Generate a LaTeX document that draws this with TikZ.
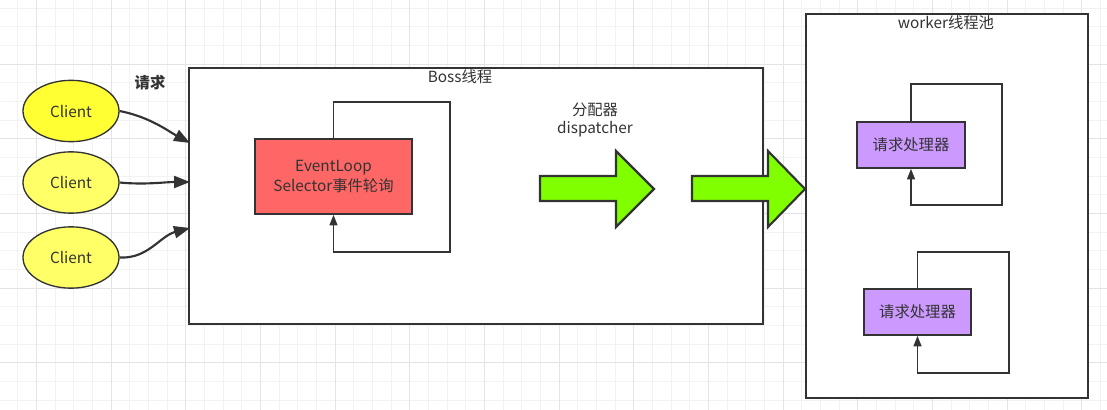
\documentclass[tikz,border=0pt]{standalone}
\usepackage{fontspec}
\setmainfont{Noto Sans CJK SC}
\usetikzlibrary{arrows.meta,shapes.geometric}

\definecolor{inkgray}{HTML}{333333}
\definecolor{gridminor}{HTML}{F2F2F2}
\definecolor{gridmajor}{HTML}{E4E4E4}
\definecolor{clientyellow}{HTML}{FFFF33}
\definecolor{clientpale}{HTML}{FFFF66}
\definecolor{looppink}{HTML}{FF6666}
\definecolor{procviolet}{HTML}{CC99FF}
\definecolor{arrowlime}{HTML}{80FF00}

\tikzset{
  client/.style={ellipse,draw=inkgray,line width=1pt,minimum width=72pt,minimum height=46pt,inner sep=0pt,text=inkgray,font=\fontsize{11.5}{13}\selectfont},
  threadbox/.style={draw=inkgray,line width=1.2pt,fill=white,inner sep=0pt},
  taskbox/.style={draw=inkgray,line width=1.2pt,inner sep=0pt,text=inkgray,align=center,font=\fontsize{11.5}{14.5}\selectfont},
  loopline/.style={draw=inkgray,line width=1.2pt,-{Triangle[length=8pt,width=6pt]}},
  request/.style={draw=inkgray,line width=1.6pt,-{Triangle[length=12pt,width=9pt]}},
  caption/.style={text=inkgray,font=\fontsize{11.5}{14}\selectfont,align=center,inner sep=0pt},
  blockarrow/.style={draw=inkgray,line width=1.6pt,fill=arrowlime,line join=miter}
}

\begin{document}
\begin{tikzpicture}[x=0.75pt,y=-0.75pt]
	\useasboundingbox (0,0) rectangle (1107,410);
	\fill[white] (0,0) rectangle (1107,410);
	
	% background grid
	\foreach \i in {0,...,58} \draw[gridminor,line width=0.6pt] (17.67+\i*18.67,0) -- (17.67+\i*18.67,410);
	\foreach \j in {0,...,21} \draw[gridminor,line width=0.6pt] (0,8+\j*18.67) -- (1107,8+\j*18.67);
	\foreach \i in {1,5,...,57} \draw[gridmajor,line width=0.6pt] (17.67+\i*18.67,0) -- (17.67+\i*18.67,410);
	\foreach \j in {3,7,...,19} \draw[gridmajor,line width=0.6pt] (0,8+\j*18.67) -- (1107,8+\j*18.67);
	
	% thread boxes
	\node[threadbox,minimum width=430.5pt,minimum height=192pt,anchor=north west] (boss) at (188,67) {};
	\node[caption,anchor=north] (bosstitle) at (460,69) {Boss线程};
	\node[threadbox,minimum width=211.5pt,minimum height=288pt,anchor=north west] (worker) at (805,13) {};
	\node[caption,anchor=north] (workertitle) at (946,15) {worker线程池};
	
	% clients
	\node[client,fill=clientyellow] (client1) at (71,111) {Client};
	\node[client,fill=clientpale] (client2) at (71,182.5) {Client};
	\node[client,fill=clientpale] (client3) at (71,257.5) {Client};
	\node[text=inkgray,font=\bfseries\fontsize{11.5}{14}\selectfont] (req) at (150,83) {请求};
	
	\coordinate (in1) at (190,143);
	\coordinate (in2) at (190,182);
	\coordinate (in3) at (190,228);
	\draw[request] (client1.east) .. controls (150,117) and (168,131) .. (in1);
	\draw[request] (client2.east) .. controls (145,185) and (165,182) .. (in2);
	\draw[request] (client3.east) .. controls (148,259) and (160,236) .. (in3);
	
	% event loop
	\node[taskbox,fill=looppink,minimum width=117.75pt,minimum height=56.25pt] (loop) at (333.5,176.5) {EventLoop\\Selector事件轮询};
	\coordinate (loopa) at (333.5,102);
	\coordinate (loopb) at (450,102);
	\coordinate (loopc) at (450,252);
	\coordinate (loopd) at (333.5,252);
	\draw[loopline] (loop.north) -- (loopa) -- (loopb) -- (loopc) -- (loopd) -- (loop.south);
	
	% dispatcher
	\node[caption] (disp) at (595,120) {分配器\\dispatcher};
	\draw[blockarrow] (540,176) -- (616,176) -- (616,151) -- (654,189) -- (616,227) -- (616,201) -- (540,201) -- cycle;
	\draw[blockarrow] (692,176) -- (768,176) -- (768,151) -- (805,189) -- (768,227) -- (768,201) -- (692,201) -- cycle;
	
	% workers
	\node[taskbox,fill=procviolet,minimum width=81pt,minimum height=34.5pt] (proc1) at (911,145) {请求处理器};
	\coordinate (p1a) at (911,84);
	\coordinate (p1b) at (1002,84);
	\coordinate (p1c) at (1002,205);
	\coordinate (p1d) at (911,205);
	\draw[loopline] (proc1.north) -- (p1a) -- (p1b) -- (p1c) -- (p1d) -- (proc1.south);
	
	\node[taskbox,fill=procviolet,minimum width=80.25pt,minimum height=34.5pt] (proc2) at (917.5,312) {请求处理器};
	\coordinate (p2a) at (917.5,252);
	\coordinate (p2b) at (1009,252);
	\coordinate (p2c) at (1009,373);
	\coordinate (p2d) at (917.5,373);
	\draw[loopline] (proc2.north) -- (p2a) -- (p2b) -- (p2c) -- (p2d) -- (proc2.south);
\end{tikzpicture}
\end{document}
